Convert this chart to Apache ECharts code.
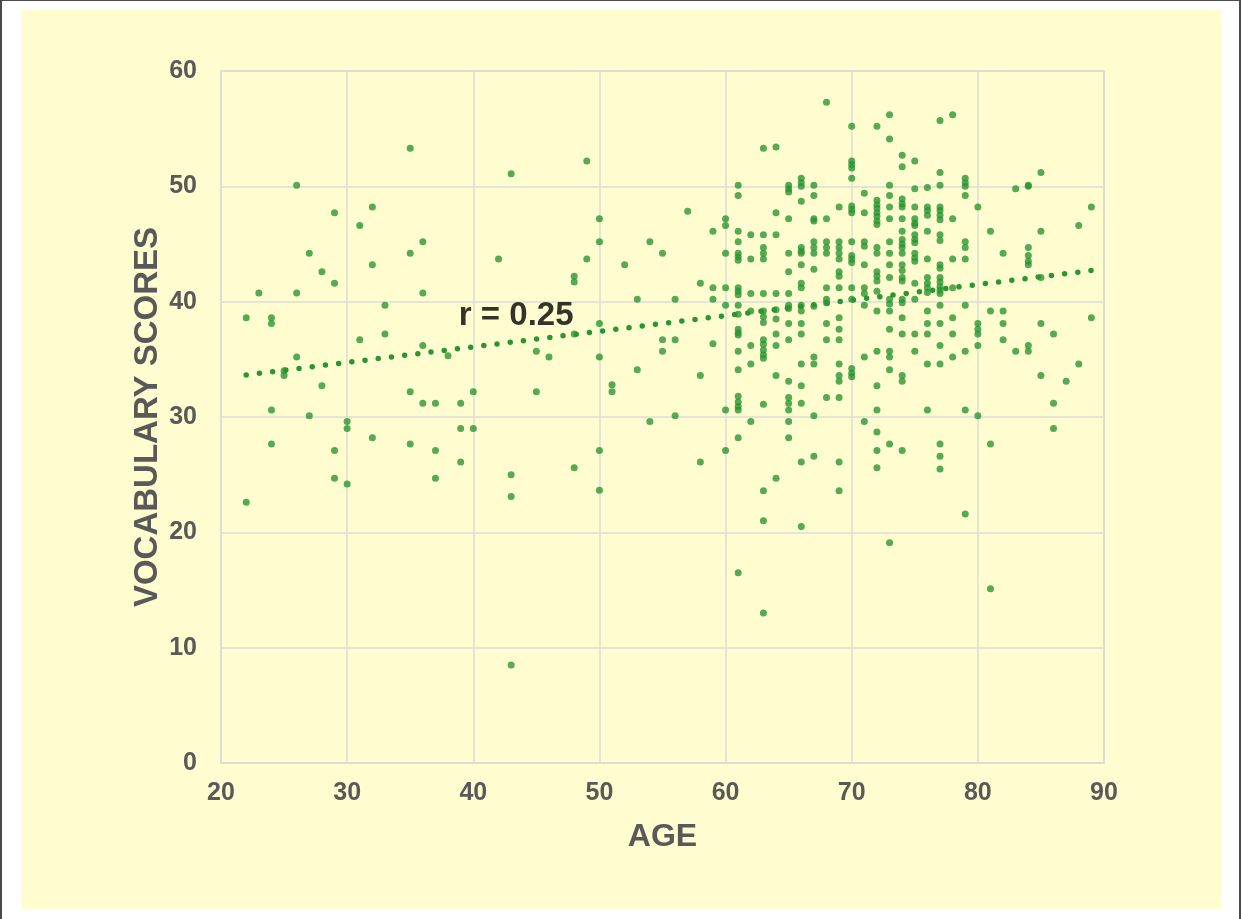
<!DOCTYPE html>
<html>
<head>
<meta charset="utf-8">
<script src="https://cdn.jsdelivr.net/npm/echarts@6/dist/echarts.min.js"></script>
<style>
  html, body { margin: 0; padding: 0; background: #fff; }
  #frame {
    position: absolute; left: 0; top: 0; width: 1237px; height: 918px;
    border-left: 2px solid #4a4a4a; border-right: 2px solid #4a4a4a; border-top: 1px solid #4a4a4a;
  }
  #chart {
    position: absolute; left: 21px; top: 10px; width: 1200px; height: 899px;
    background: #fffdcf;
  }
</style>
</head>
<body>
<div id="frame"></div>
<div id="chart"></div>
<script>
  // ages (x) and the vocabulary scores read for each age
  const ages = [22, 23, 24, 25, 26, 27, 28, 29, 30, 31, 32, 33, 35, 36, 37, 38, 39, 40, 42, 43,
    45, 46, 48, 49, 50, 51, 52, 53, 54, 55, 56, 57, 58, 59, 60, 61, 62, 63, 64, 65, 66, 67, 68, 69,
    70, 71, 72, 73, 74, 75, 76, 77, 78, 79, 80, 81, 82, 83, 84, 85, 86, 87, 88, 89];
  const scoresByAge = [
    [38.6, 22.6],
    [40.75],
    [38.6, 38.1, 30.6, 27.65],
    [33.6, 34.0],
    [50.1, 40.75, 35.2],
    [44.2, 30.1],
    [42.6, 32.7],
    [47.7, 41.6, 27.1, 24.7],
    [29.6, 29.0, 24.2],
    [46.6, 36.7],
    [48.2, 43.2, 28.2],
    [39.7, 37.2],
    [53.3, 44.2, 32.2, 27.65],
    [45.2, 40.75, 36.2, 31.2],
    [31.2, 27.1, 24.7],
    [35.3],
    [31.2, 29.0, 26.1],
    [32.2, 29.0],
    [43.7],
    [51.1, 25.0, 23.1, 8.5],
    [35.7, 32.2],
    [35.2],
    [42.2, 41.7, 37.2, 25.6],
    [52.2, 43.7],
    [47.2, 45.2, 38.1, 35.2, 27.1, 23.65],
    [32.8, 32.2],
    [43.2],
    [40.2, 34.1],
    [45.2, 29.6],
    [44.2, 36.7, 35.7],
    [40.2, 36.7, 30.1],
    [47.85],
    [41.6, 33.6, 26.1],
    [46.1, 41.2, 40.2, 36.35],
    [47.2, 46.6, 44.2, 41.2, 39.7, 30.6, 27.1],
    [50.1, 49.2, 46.1, 45.2, 44.2, 43.9, 43.6, 41.2, 40.9, 40.6, 39.7, 38.9, 37.6, 37.3, 37.1, 35.7, 34.1, 31.8, 31.3, 30.9, 30.6, 28.2, 16.5],
    [45.8, 43.7, 40.7, 39.2, 36.2, 34.6, 29.6],
    [53.3, 45.8, 44.7, 44.2, 43.7, 40.7, 39.2, 38.7, 38.2, 36.7, 36.3, 35.8, 35.4, 35.1, 31.1, 23.6, 21.0, 13.0],
    [53.4, 47.7, 45.8, 40.7, 39.3, 38.5, 37.2, 36.2, 33.6, 24.7],
    [50.1, 49.8, 49.5, 47.2, 44.2, 42.6, 40.7, 39.7, 39.4, 38.1, 36.7, 33.1, 31.7, 31.2, 30.6, 29.6, 28.2],
    [50.7, 50.3, 50.0, 48.7, 44.7, 44.4, 44.2, 43.2, 41.6, 41.2, 39.7, 39.2, 38.1, 37.2, 34.6, 32.7, 31.2, 26.1, 20.5],
    [50.1, 49.2, 47.2, 47.0, 45.2, 44.7, 44.2, 42.8, 39.6, 35.2, 34.6, 30.1, 26.6],
    [57.3, 47.2, 45.2, 44.7, 44.2, 41.2, 40.2, 39.9, 38.1, 36.7, 31.7],
    [48.2, 45.2, 44.7, 44.2, 43.7, 42.6, 42.2, 41.2, 38.6, 37.6, 36.7, 34.6, 33.6, 33.1, 31.7, 26.1, 23.6],
    [55.2, 52.2, 51.9, 51.6, 50.7, 48.3, 48.0, 47.7, 45.2, 44.0, 43.7, 43.4, 41.2, 40.2, 34.2, 33.8, 33.5],
    [49.4, 47.7, 45.2, 44.8, 43.2, 41.2, 40.7, 39.7, 35.2, 29.6],
    [55.2, 48.8, 48.4, 48.1, 47.7, 47.4, 47.0, 46.7, 44.7, 44.2, 42.6, 42.2, 41.8, 40.9, 39.2, 35.7, 32.7, 30.6, 28.7, 27.1, 25.6],
    [56.2, 54.1, 50.1, 49.2, 48.2, 47.2, 45.2, 44.2, 43.2, 42.1, 40.2, 39.8, 39.2, 37.6, 35.7, 35.2, 34.1, 27.65, 19.1],
    [52.7, 51.7, 48.9, 48.5, 48.2, 47.2, 46.1, 45.4, 45.0, 44.7, 44.2, 43.2, 42.7, 42.1, 41.8, 40.2, 39.9, 38.6, 37.2, 33.6, 33.1, 27.1],
    [52.2, 49.8, 48.2, 47.2, 46.8, 46.6, 45.8, 45.4, 45.1, 44.2, 43.8, 43.5, 41.6, 40.2, 37.2, 35.7],
    [49.9, 48.2, 47.9, 47.5, 46.1, 43.7, 42.1, 41.6, 41.2, 40.8, 39.2, 38.1, 37.2, 34.6, 30.6],
    [55.7, 51.2, 50.1, 48.2, 47.9, 47.5, 47.1, 45.8, 45.3, 43.2, 42.9, 42.1, 41.7, 41.3, 41.0, 40.7, 39.7, 38.1, 36.2, 34.6, 27.65, 26.6, 25.5],
    [56.2, 47.2, 43.7, 41.2, 38.6, 37.2, 35.2],
    [50.7, 50.3, 50.0, 49.2, 45.2, 44.7, 43.7, 39.7, 35.7, 30.6, 21.6],
    [48.2, 38.1, 37.6, 37.2, 36.2, 30.1],
    [46.1, 39.2, 27.65, 15.1],
    [44.2, 39.2, 38.1, 36.7],
    [49.8, 35.7],
    [50.1, 50.0, 44.7, 44.0, 43.5, 43.2, 36.2, 35.7],
    [51.2, 46.1, 42.1, 38.1, 33.6],
    [37.2, 31.2, 29.0],
    [33.1],
    [46.6, 34.6],
    [48.2, 38.6]
  ];
  // linear trendline endpoints as drawn in the picture
  const trendAge = [22, 89];
  const trendScore = [33.65, 42.7];
  const rLabel = 'r = 0.25';
  const rLabelAt = [43.4, 38.8];

  const points = [];
  ages.forEach((a, i) => scoresByAge[i].forEach(s => points.push([a, s])));

  const green = '#2a9533';
  const gray = '#595959';
  const font = "'Liberation Sans', Arial, sans-serif";

  const chart = echarts.init(document.getElementById('chart'));
  chart.setOption({
    animation: false,
    grid: {
      left: 200, top: 61, width: 883, height: 692,
      show: true, borderColor: '#d6d6d0', borderWidth: 1.5, backgroundColor: 'transparent'
    },
    xAxis: {
      type: 'value', min: 20, max: 90, interval: 10,
      name: 'AGE', nameLocation: 'middle', nameGap: 58,
      nameTextStyle: { color: gray, fontSize: 32, fontWeight: 'bold', fontFamily: font },
      axisLine: { show: false }, axisTick: { show: false },
      axisLabel: { color: gray, fontSize: 25, fontWeight: 'bold', fontFamily: font, margin: 18 },
      splitLine: { lineStyle: { color: '#dcdcd6', width: 1.5 } }
    },
    yAxis: {
      type: 'value', min: 0, max: 60, interval: 10,
      name: 'VOCABULARY SCORES', nameLocation: 'middle', nameGap: 57, nameMoveOverlap: false,
      nameTextStyle: { color: gray, fontSize: 33, fontWeight: 'bold', fontFamily: font },
      axisLine: { show: false }, axisTick: { show: false },
      axisLabel: { color: gray, fontSize: 25, fontWeight: 'bold', fontFamily: font, margin: 24 },
      splitLine: { lineStyle: { color: '#dcdcd6', width: 1.5 } }
    },
    series: [
      {
        type: 'scatter', data: points, symbolSize: 7,
        itemStyle: { color: green }, z: 2
      },
      {
        type: 'line', data: trendAge.map((a, i) => [a, trendScore[i]]),
        symbol: 'none', silent: true, z: 3,
        lineStyle: { color: green, width: 5.5, type: [0, 13.3], cap: 'round' }
      },
      {
        type: 'scatter', data: [rLabelAt], symbolSize: 0, silent: true, z: 4,
        label: {
          show: true, position: 'inside', formatter: rLabel,
          color: '#000', fontSize: 33, fontWeight: 'bold', fontFamily: font
        }
      }
    ]
  });
</script>
</body>
</html>
